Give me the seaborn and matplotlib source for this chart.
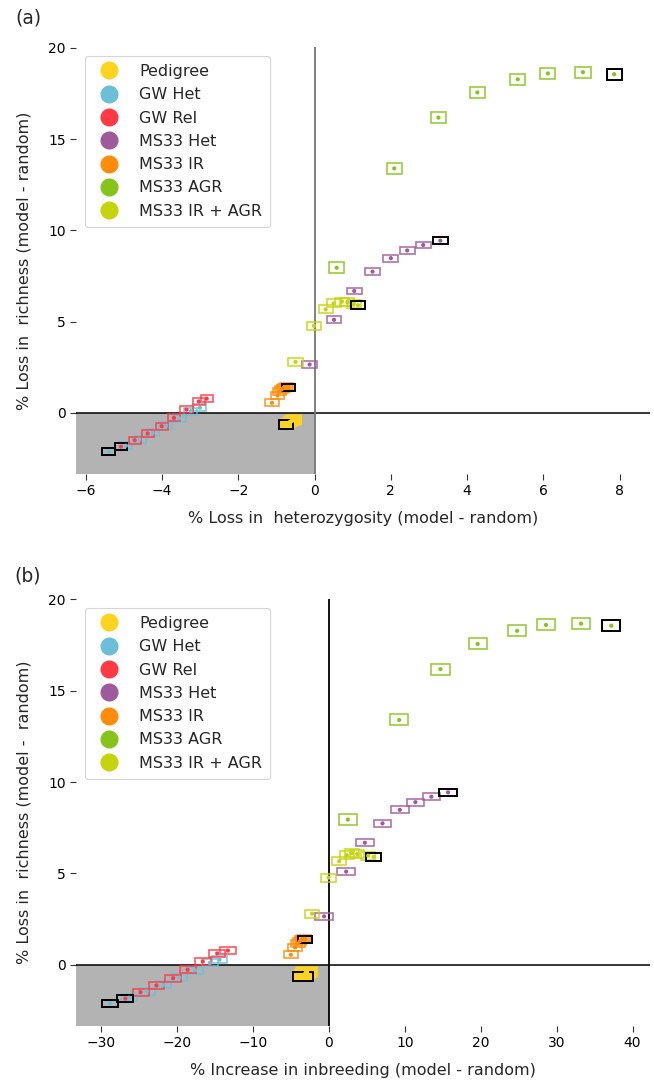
import matplotlib
matplotlib.use("Agg")
import numpy as np
import pandas as pd
import matplotlib.pyplot as plt
import seaborn as sns
from matplotlib.patches import Rectangle
from matplotlib.lines import Line2D

# ---------------- data ----------------
groups = ["Pedigree", "GW Het", "GW Rel", "MS33 Het", "MS33 IR", "MS33 AGR", "MS33 IR + AGR"]
colors = ["#FFD320", "#6BC0D8", "#FF3A45", "#9E5A9B", "#FF8C0A", "#86C41B", "#C5D40C"]

# % loss in richness (shared y values of both panels)
rich_pedigree = [-0.64, -0.56, -0.50, -0.45, -0.42, -0.40, -0.38, -0.36]
rich_gwhet = [-2.12, -1.80, -1.45, -1.10, -0.70, -0.30, 0.10, 0.28]
rich_gwrel = [-1.85, -1.50, -1.13, -0.73, -0.27, 0.18, 0.62, 0.78]
rich_mshet = [2.65, 5.10, 6.68, 7.74, 8.48, 8.90, 9.20, 9.44]
rich_msir = [0.55, 0.95, 1.15, 1.28, 1.36, 1.40, 1.42, 1.40]
rich_msagr = [7.95, 13.40, 16.18, 17.56, 18.28, 18.60, 18.67, 18.56]
rich_msiragr = [2.80, 4.77, 5.67, 6.00, 6.10, 6.06, 5.97, 5.90]

# % loss in heterozygosity (panel a x values)
het_pedigree = [-0.74, -0.69, -0.65, -0.61, -0.58, -0.56, -0.54, -0.53]
het_gwhet = [-5.40, -4.95, -4.60, -4.25, -3.90, -3.55, -3.25, -3.01]
het_gwrel = [-5.08, -4.72, -4.38, -4.01, -3.69, -3.36, -3.04, -2.83]
het_mshet = [-0.13, 0.51, 1.04, 1.52, 2.00, 2.43, 2.85, 3.30]
het_msir = [-1.12, -0.97, -0.92, -0.87, -0.82, -0.78, -0.74, -0.68]
het_msagr = [0.58, 2.09, 3.25, 4.27, 5.33, 6.12, 7.04, 7.86]
het_msiragr = [-0.50, -0.02, 0.29, 0.50, 0.72, 0.86, 1.03, 1.14]

# % increase in inbreeding (panel b x values)
inb_pedigree = [-3.39, -3.25, -3.15, -3.05, -2.98, -2.93, -2.90, -2.88]
inb_gwhet = [-28.8, -26.3, -24.0, -21.8, -19.7, -17.6, -15.7, -14.4]
inb_gwrel = [-26.8, -24.8, -22.7, -20.5, -18.6, -16.6, -14.7, -13.3]
inb_mshet = [-0.62, 2.28, 4.74, 7.07, 9.35, 11.4, 13.5, 15.7]
inb_msir = [-5.00, -4.44, -4.10, -3.85, -3.60, -3.40, -3.25, -3.12]
inb_msagr = [2.5, 9.27, 14.7, 19.6, 24.8, 28.6, 33.2, 37.2]
inb_msiragr = [-2.2, -0.04, 1.36, 2.37, 3.03, 3.73, 5.18, 5.89]

# interval widths (full box width / height, in data units)
het_width = [0.37, 0.34, 0.32, 0.39, 0.35, 0.40, 0.37]
inb_width = [2.6, 2.1, 2.1, 2.3, 1.8, 2.4, 1.9]
rich_height = [0.45, 0.38, 0.38, 0.38, 0.38, 0.60, 0.44]

# index of highlighted (black-edged) result in every group
highlight = [0, 0, 0, 7, 7, 7, 7]

rich = [rich_pedigree, rich_gwhet, rich_gwrel, rich_mshet, rich_msir, rich_msagr, rich_msiragr]
het = [het_pedigree, het_gwhet, het_gwrel, het_mshet, het_msir, het_msagr, het_msiragr]
inb = [inb_pedigree, inb_gwhet, inb_gwrel, inb_mshet, inb_msir, inb_msagr, inb_msiragr]

rows = []
for gi, g in enumerate(groups):
    for k in range(len(rich[gi])):
        rows.append(dict(group=g, gi=gi, k=k, rich=rich[gi][k], het=het[gi][k], inb=inb[gi][k],
                         hw=het_width[gi], iw=inb_width[gi], rh=rich_height[gi],
                         hl=(k == highlight[gi])))
df = pd.DataFrame(rows)

# ---------------- figure ----------------
sns.set_theme(style="ticks")
plt.rcParams['font.family'] = ['DejaVu Sans']

W, H = 654, 1082
fig = plt.figure(figsize=(W / 100, H / 100), dpi=100)
ax1 = fig.add_axes([76 / W, 1 - 474 / H, 574 / W, 427 / H])
ax2 = fig.add_axes([76 / W, 1 - 1026 / H, 574 / W, 427 / H])

palette = dict(zip(groups, colors))


def draw(ax, xcol, wcol, xlim, ylim, vcolor, xlabel, ylabel):
    ax.set_xlim(*xlim)
    ax.set_ylim(*ylim)
    ax.add_patch(Rectangle((xlim[0], ylim[0]), -xlim[0], -ylim[0],
                           facecolor="#B3B3B3", edgecolor="none", zorder=0))
    ax.axhline(0, color="black", lw=1.1, zorder=1)
    ax.axvline(0, color=vcolor, lw=1.3, zorder=1)
    # interval boxes
    for _, r in df.iterrows():
        c = palette[r.group]
        fill = r.group == "Pedigree"
        ax.add_patch(Rectangle((r[xcol] - r[wcol] / 2, r.rich - r.rh / 2), r[wcol], r.rh,
                               facecolor=c if fill else "none", edgecolor=c,
                               lw=1.2, alpha=0.85, zorder=2))
    for _, r in df[df.hl].iterrows():
        ax.add_patch(Rectangle((r[xcol] - r[wcol] / 2, r.rich - r.rh / 2), r[wcol], r.rh,
                               facecolor="none", edgecolor="black", lw=1.4, zorder=3))
    sns.scatterplot(data=df, x=xcol, y="rich", hue="group", palette=palette,
                    s=9, linewidth=0, legend=False, ax=ax, zorder=4)
    for s in ax.spines.values():
        s.set_visible(False)
    ax.tick_params(direction="out", length=4, width=0.8, colors="#333333",
                   labelcolor="black", labelsize=10)
    ax.set_xlabel(xlabel, fontsize=11.5, labelpad=9)
    ax.set_ylabel(ylabel, fontsize=11.5, labelpad=12)
    ax.set_yticks([0, 5, 10, 15, 20])
    handles = [Line2D([0], [0], marker="o", linestyle="", markersize=13,
                      markerfacecolor=c, markeredgecolor="none", label=g)
               for g, c in zip(groups, colors)]
    leg = ax.legend(handles=handles, loc="upper left", bbox_to_anchor=(0.016, 0.979),
                    borderaxespad=0, fontsize=11.5, frameon=True, fancybox=True,
                    labelspacing=0.52, handletextpad=0.9, borderpad=0.5)
    leg.get_frame().set_edgecolor("#CCCCCC")
    leg.get_frame().set_linewidth(0.8)


draw(ax1, "het", "hw", (-6.26, 8.80), (-3.35, 20.05), "#777777",
     "% Loss in  heterozygosity (model - random)", "% Loss in  richness (model - random)")
ax1.set_xticks([-6, -4, -2, 0, 2, 4, 6, 8])
draw(ax2, "inb", "iw", (-33.3, 42.3), (-3.35, 20.02), "black",
     "% Increase in inbreeding (model - random)", "% Loss in  richness (model -  random)")
ax2.set_xticks([-30, -20, -10, 0, 10, 20, 30, 40])

fig.text(15 / W, 1 - 18 / H, "(a)", fontsize=13.5, va="center", ha="left")
fig.text(14 / W, 1 - 576 / H, "(b)", fontsize=13.5, va="center", ha="left")

fig.savefig("out.png", dpi=100)
